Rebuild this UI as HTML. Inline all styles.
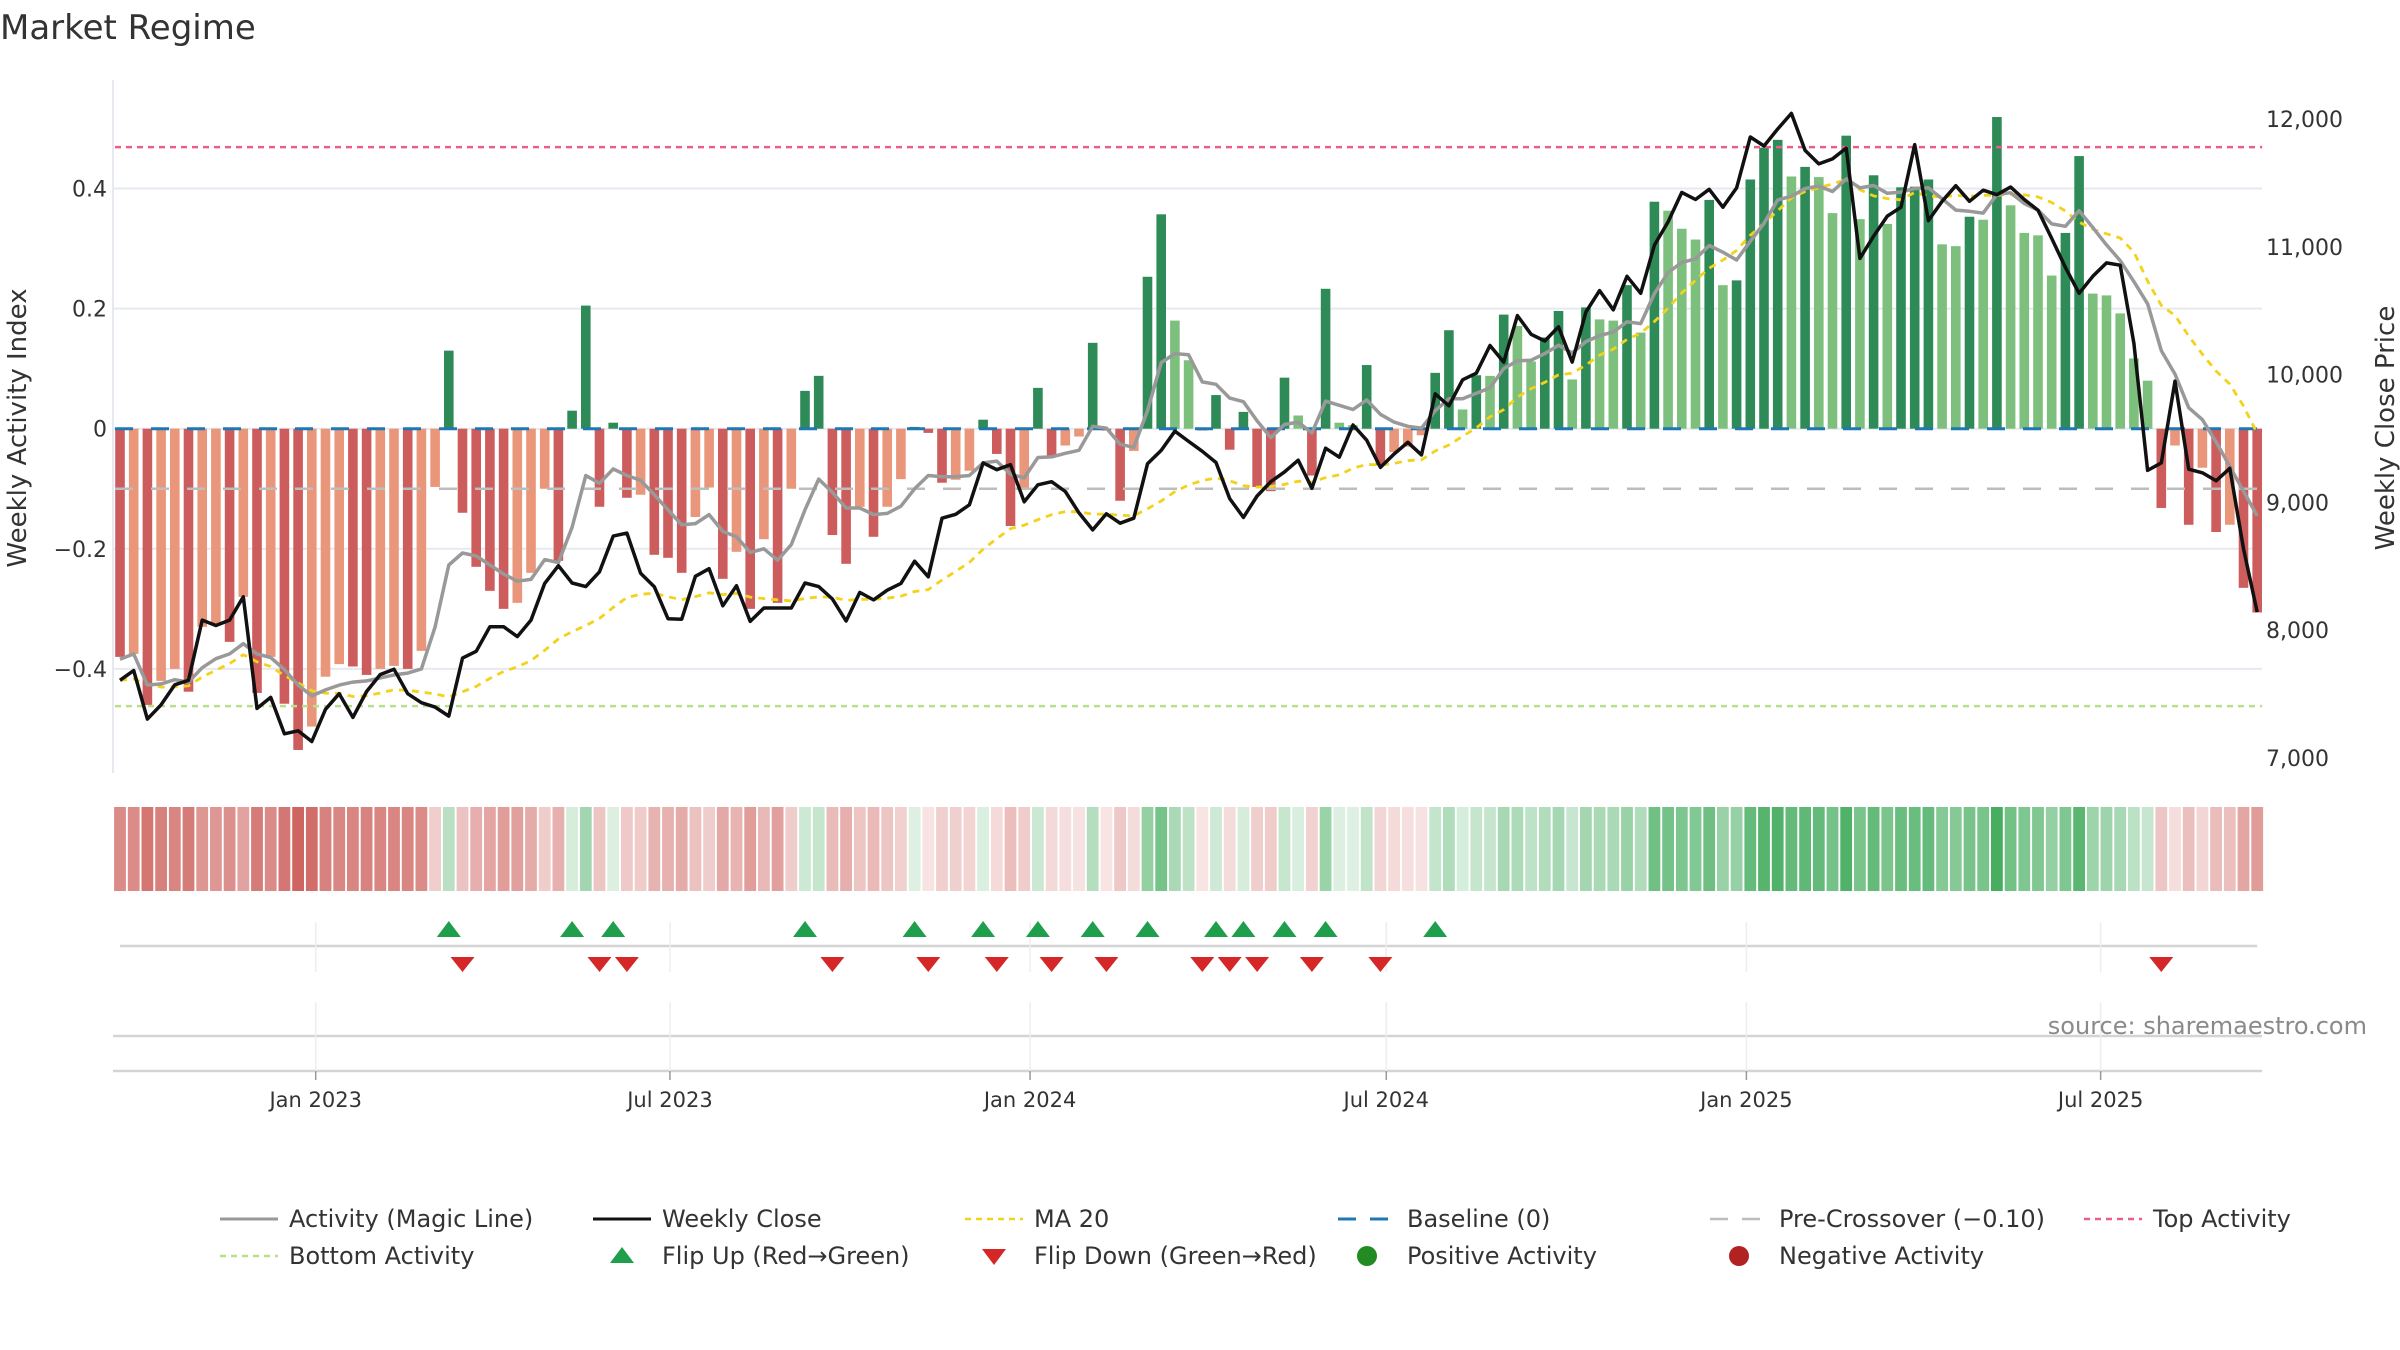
<!DOCTYPE html>
<html><head><meta charset="utf-8"><title>Market Regime</title>
<style>
html,body{margin:0;padding:0;background:#fff;}
svg{display:block;font-family:"DejaVu Sans","Liberation Sans",sans-serif;}
</style></head>
<body>
<svg id="chart" width="2400" height="1350" viewBox="0 0 2400 1350" xmlns="http://www.w3.org/2000/svg">
<rect width="2400" height="1350" fill="#fff"/>
<text x="0" y="39" font-size="34" fill="#333">Market Regime</text>
<g id="grid"></g><g id="bars"></g><g id="refs"></g><g id="lines"></g>
<g id="axes"></g><g id="strip"></g><g id="flips"></g><g id="legend"></g>
</svg>
<script>
const startDate = "2022-09-23";
const activity = [
-0.38,-0.375,-0.46,-0.42,-0.40,-0.438,-0.33,-0.325,-0.355,-0.28,
-0.44,-0.38,-0.458,-0.535,-0.496,-0.413,-0.392,-0.396,-0.41,-0.40,
-0.395,-0.40,-0.37,-0.097,0.13,-0.14,-0.23,-0.27,-0.30,-0.29,
-0.24,-0.10,-0.22,0.03,0.205,-0.13,0.01,-0.115,-0.11,-0.21,
-0.215,-0.24,-0.147,-0.098,-0.25,-0.205,-0.30,-0.184,-0.29,-0.10,
0.063,0.088,-0.177,-0.225,-0.13,-0.18,-0.13,-0.084,0.003,-0.007,
-0.09,-0.085,-0.07,0.015,-0.042,-0.162,-0.10,0.068,-0.045,-0.028,
-0.013,0.143,-0.003,-0.12,-0.037,0.253,0.357,0.18,0.114,-0.003,
0.056,-0.035,0.028,-0.097,-0.104,0.085,0.022,-0.078,0.233,0.01,
0.006,0.106,-0.061,-0.039,-0.03,-0.011,0.093,0.164,0.032,0.089,
0.088,0.19,0.171,0.112,0.152,0.196,0.082,0.202,0.182,0.18,
0.239,0.16,0.378,0.363,0.333,0.315,0.381,0.239,0.247,0.415,
0.468,0.481,0.42,0.436,0.419,0.359,0.488,0.349,0.422,0.341,
0.402,0.403,0.415,0.307,0.304,0.353,0.348,0.519,0.372,0.326,
0.322,0.255,0.326,0.454,0.225,0.222,0.192,0.117,0.08,-0.132,
-0.028,-0.16,-0.065,-0.172,-0.16,-0.265,-0.306];
const magic = [
-0.384,-0.375,-0.427,-0.425,-0.418,-0.422,-0.398,-0.383,-0.375,-0.358,
-0.375,-0.381,-0.401,-0.427,-0.445,-0.435,-0.427,-0.422,-0.42,-0.415,
-0.41,-0.407,-0.40,-0.33,-0.227,-0.207,-0.212,-0.227,-0.242,-0.254,
-0.251,-0.218,-0.223,-0.164,-0.078,-0.091,-0.067,-0.078,-0.086,-0.11,
-0.135,-0.16,-0.158,-0.143,-0.171,-0.18,-0.206,-0.2,-0.219,-0.193,
-0.135,-0.084,-0.106,-0.132,-0.132,-0.143,-0.141,-0.129,-0.10,-0.078,
-0.08,-0.08,-0.078,-0.057,-0.054,-0.076,-0.082,-0.048,-0.047,-0.041,
-0.036,0.004,0.001,-0.026,-0.031,0.03,0.11,0.125,0.123,0.078,
0.074,0.051,0.045,0.013,-0.015,0.007,0.011,-0.007,0.046,0.039,
0.032,0.048,0.024,0.011,0.004,0.001,0.03,0.05,0.05,0.059,
0.068,0.10,0.113,0.114,0.125,0.139,0.126,0.145,0.155,0.161,
0.178,0.175,0.225,0.26,0.277,0.283,0.305,0.294,0.281,0.312,
0.342,0.381,0.387,0.40,0.404,0.395,0.416,0.401,0.405,0.392,
0.394,0.40,0.401,0.383,0.364,0.362,0.359,0.39,0.393,0.375,
0.364,0.341,0.337,0.363,0.335,0.306,0.28,0.245,0.208,0.13,
0.091,0.035,0.015,-0.022,-0.063,-0.104,-0.145];
const close = [
7608,7685,7304,7416,7573,7608,8079,8037,8079,8261,
7388,7475,7189,7213,7129,7381,7503,7318,7520,7653,
7695,7503,7433,7398,7328,7782,7835,8027,8027,7950,
8079,8366,8505,8369,8341,8457,8736,8760,8446,8340,
8090,8086,8422,8481,8191,8348,8069,8174,8174,8174,
8369,8341,8244,8072,8296,8237,8313,8366,8540,8418,
8876,8907,8981,9309,9256,9295,9005,9138,9162,9085,
8918,8785,8911,8837,8876,9302,9407,9557,9477,9400,
9312,9030,8883,9050,9162,9239,9330,9110,9424,9354,
9606,9487,9274,9379,9470,9372,9850,9756,9959,10011,
10228,10098,10462,10315,10263,10374,10098,10490,10657,10507,
10769,10636,11013,11195,11426,11370,11450,11310,11461,11859,
11789,11922,12044,11754,11649,11688,11772,10909,11083,11240,
11310,11800,11205,11356,11478,11356,11443,11408,11468,11370,
11286,11066,10839,10636,10769,10874,10856,10245,9250,9309,
9948,9260,9232,9169,9267,8638,8142];
const leftTicks = [-0.4,-0.2,0,0.2,0.4];
const leftTickLabels = ["−0.4","−0.2","0","0.2","0.4"];
const rightTicks = [7000,8000,9000,10000,11000,12000];
const rightTickLabels = ["7,000","8,000","9,000","10,000","11,000","12,000"];
const dateTicks = ["2023-01-01","2023-07-01","2024-01-01","2024-07-01","2025-01-01","2025-07-01"];
const dateTickLabels = ["Jan 2023","Jul 2023","Jan 2024","Jul 2024","Jan 2025","Jul 2025"];
const topActivity = 0.469;
const bottomActivity = -0.462;
const preCross = -0.10;
const maSpan = 14;

const NS="http://www.w3.org/2000/svg";
function mk(tag,attrs,parent){const e=document.createElementNS(NS,tag);for(const k in attrs)e.setAttribute(k,attrs[k]);parent.appendChild(e);return e;}
const X0=120, PITCH=13.7, N=activity.length;
const xi=i=>X0+i*PITCH;
const xd=d=>X0+((new Date(d+"T00:00:00Z")-new Date(startDate+"T00:00:00Z"))/86400000)/7*PITCH;
const yL=v=>428.7-v*600.5;
const yR=p=>758-(p-7000)*0.1278;
const PL=113, PR=2262, XE=xi(N-1);
const G=id=>document.getElementById(id);

for(let k=0;k<leftTicks.length;k++){
  const l=mk('line',{x1:PL,x2:PR,y1:yL(leftTicks[k]),y2:yL(leftTicks[k]),stroke:'#e6eaf0','stroke-width':2},G('grid'));
  
  
}
for(let i=0;i<N;i++){
  const v=activity[i], p=i>0?activity[i-1]:0;
  let c;
  if(v>=0) c=(v>p)?'#2e8b57':'#7dbf7d'; else c=(v<p)?'#cd5c5c':'#e9967a';
  const y1=yL(Math.max(v,0)), y2=yL(Math.min(v,0));
  const r=mk('rect',{x:xi(i)-4.8,y:y1,width:9.6,height:Math.max(0.5,y2-y1),fill:c},G('bars'));
  
  
}
function hl(y,color,w,dash,name){
  const l=mk('line',{x1:X0-5,x2:XE+5,y1:y,y2:y,stroke:color,'stroke-width':w,'stroke-dasharray':dash},G('refs'));
  
  
}
hl(yL(topActivity),'#e8608a',2.5,'6 5','top-activity-line');
hl(yL(bottomActivity),'#b8e08c',2.5,'6 5','bottom-activity-line');
hl(yL(preCross),'#bdbdbd',2.5,'18 18','pre-crossover-line');
hl(yL(0),'#1f77b4',3,'18 18','baseline-zero-line');
const ma=[];for(let i=0;i<N;i++){ma.push(i===0?close[0]:ma[i-1]+(close[i]-ma[i-1])*2/(maSpan+1));}
function pl(arr,yf,color,w,dash,name){
  const pts=arr.map((v,i)=>xi(i).toFixed(1)+','+yf(v).toFixed(1)).join(' ');
  const e=mk('polyline',{points:pts,fill:'none',stroke:color,'stroke-width':w,'stroke-linejoin':'round'},G('lines'));
  if(dash)e.setAttribute('stroke-dasharray',dash);
  
  
}
pl(ma,yR,'#f2d21b',2.8,'7 6','ma20-line');
pl(magic,yL,'#999999',3.5,null,'magic-line');
pl(close,yR,'#111111',3.5,null,'weekly-close-line');
const ax=G('axes');
let e=mk('line',{x1:PL,x2:PL,y1:80,y2:773,stroke:'#e6eaf0','stroke-width':2},ax);


for(let k=0;k<leftTicks.length;k++){
  const t=mk('text',{x:107,y:yL(leftTicks[k])+8,'text-anchor':'end','font-size':22,fill:'#333'},ax);
  t.textContent=leftTickLabels[k];
  
  
}
for(let k=0;k<rightTicks.length;k++){
  const t=mk('text',{x:2266,y:yR(rightTicks[k])+8,'font-size':22,fill:'#333'},ax);
  t.textContent=rightTickLabels[k];
  
  
}
e=mk('text',{x:0,y:0,transform:'translate(26,428) rotate(-90)','text-anchor':'middle','font-size':26,fill:'#333'},ax);
e.textContent='Weekly Activity Index';


e=mk('text',{x:0,y:0,transform:'translate(2394,428) rotate(-90)','text-anchor':'middle','font-size':26,fill:'#333'},ax);
e.textContent='Weekly Close Price';


[[120,XE,946],[PL,PR,1036],[PL,PR,1071]].forEach(a=>{
  const l=mk('line',{x1:a[0],x2:a[1],y1:a[2],y2:a[2],stroke:'#d4d4d4','stroke-width':2.5},ax);
  
  
});
for(let k=0;k<dateTicks.length;k++){
  const x=xd(dateTicks[k]);
  [[922,972],[1002,1071]].forEach(s=>{
    const l=mk('line',{x1:x,x2:x,y1:s[0],y2:s[1],stroke:'#eceef2','stroke-width':1.5},ax);
    
    
  });
  const tk=mk('line',{x1:x,x2:x,y1:1071,y2:1080,stroke:'#999','stroke-width':1.5},ax);
  
  
  const t=mk('text',{x:x,y:1107,'text-anchor':'middle','font-size':21,fill:'#333'},ax);
  t.textContent=dateTickLabels[k];
  
  
}
e=mk('text',{x:2367,y:1034,'text-anchor':'end','font-size':24,fill:'#8a8a8a'},ax);
e.textContent='source: sharemaestro.com';


for(let i=0;i<N;i++){
  const v=activity[i];
  const a=0.15+0.75*Math.min(1,Math.abs(v)/0.55);
  const base=v>=0?[40,160,70]:[200,80,75];
  const c='rgb('+base.map(b=>Math.round(255+(b-255)*a)).join(',')+')';
  const r=mk('rect',{x:xi(i)-5.9,y:807,width:11.8,height:84,fill:c},G('strip'));
  
  
}
for(let i=1;i<N;i++){
  const x=xi(i);
  if(activity[i-1]<0&&activity[i]>=0){
    const t=mk('polygon',{points:`${x-12},937 ${x+12},937 ${x},921`,fill:'#1f9e4b'},G('flips'));
    
    
  } else if(activity[i-1]>=0&&activity[i]<0){
    const t=mk('polygon',{points:`${x-12},957 ${x+12},957 ${x},972`,fill:'#d62728'},G('flips'));
    
    
  }
}
const lg=G('legend');
const items=[
 [220,1219,'line','#999',null,3,'Activity (Magic Line)'],
 [593,1219,'line','#111',null,3,'Weekly Close'],
 [965,1219,'line','#f2d21b','6 5',2.5,'MA 20'],
 [1338,1219,'line','#1f77b4','18 14',3,'Baseline (0)'],
 [1710,1219,'line','#bdbdbd','18 14',2.5,'Pre-Crossover (−0.10)'],
 [2084,1219,'line','#e8608a','6 5',2.5,'Top Activity'],
 [220,1256,'line','#b8e08c','6 5',2.5,'Bottom Activity'],
 [593,1256,'up','#1f9e4b',null,0,'Flip Up (Red→Green)'],
 [965,1256,'down','#d62728',null,0,'Flip Down (Green→Red)'],
 [1338,1256,'dot','#228b22',null,0,'Positive Activity'],
 [1710,1256,'dot','#b22222',null,0,'Negative Activity']];
items.forEach(it=>{
  const [x,y,kind,col,dash,w,label]=it;
  const g=mk('g',{},lg);
  
  
  if(kind==='line'){const l=mk('line',{x1:x,x2:x+58,y1:y,y2:y,stroke:col,'stroke-width':w},g);if(dash)l.setAttribute('stroke-dasharray',dash);}
  else if(kind==='up'){mk('polygon',{points:`${x+17},${y+7} ${x+41},${y+7} ${x+29},${y-9}`,fill:col},g);}
  else if(kind==='down'){mk('polygon',{points:`${x+17},${y-7} ${x+41},${y-7} ${x+29},${y+9}`,fill:col},g);}
  else {mk('circle',{cx:x+29,cy:y,r:10,fill:col},g);}
  const t=mk('text',{x:x+69,y:y+8,'font-size':24,fill:'#333'},g);
  t.textContent=label;
});
</script>
</body></html>
